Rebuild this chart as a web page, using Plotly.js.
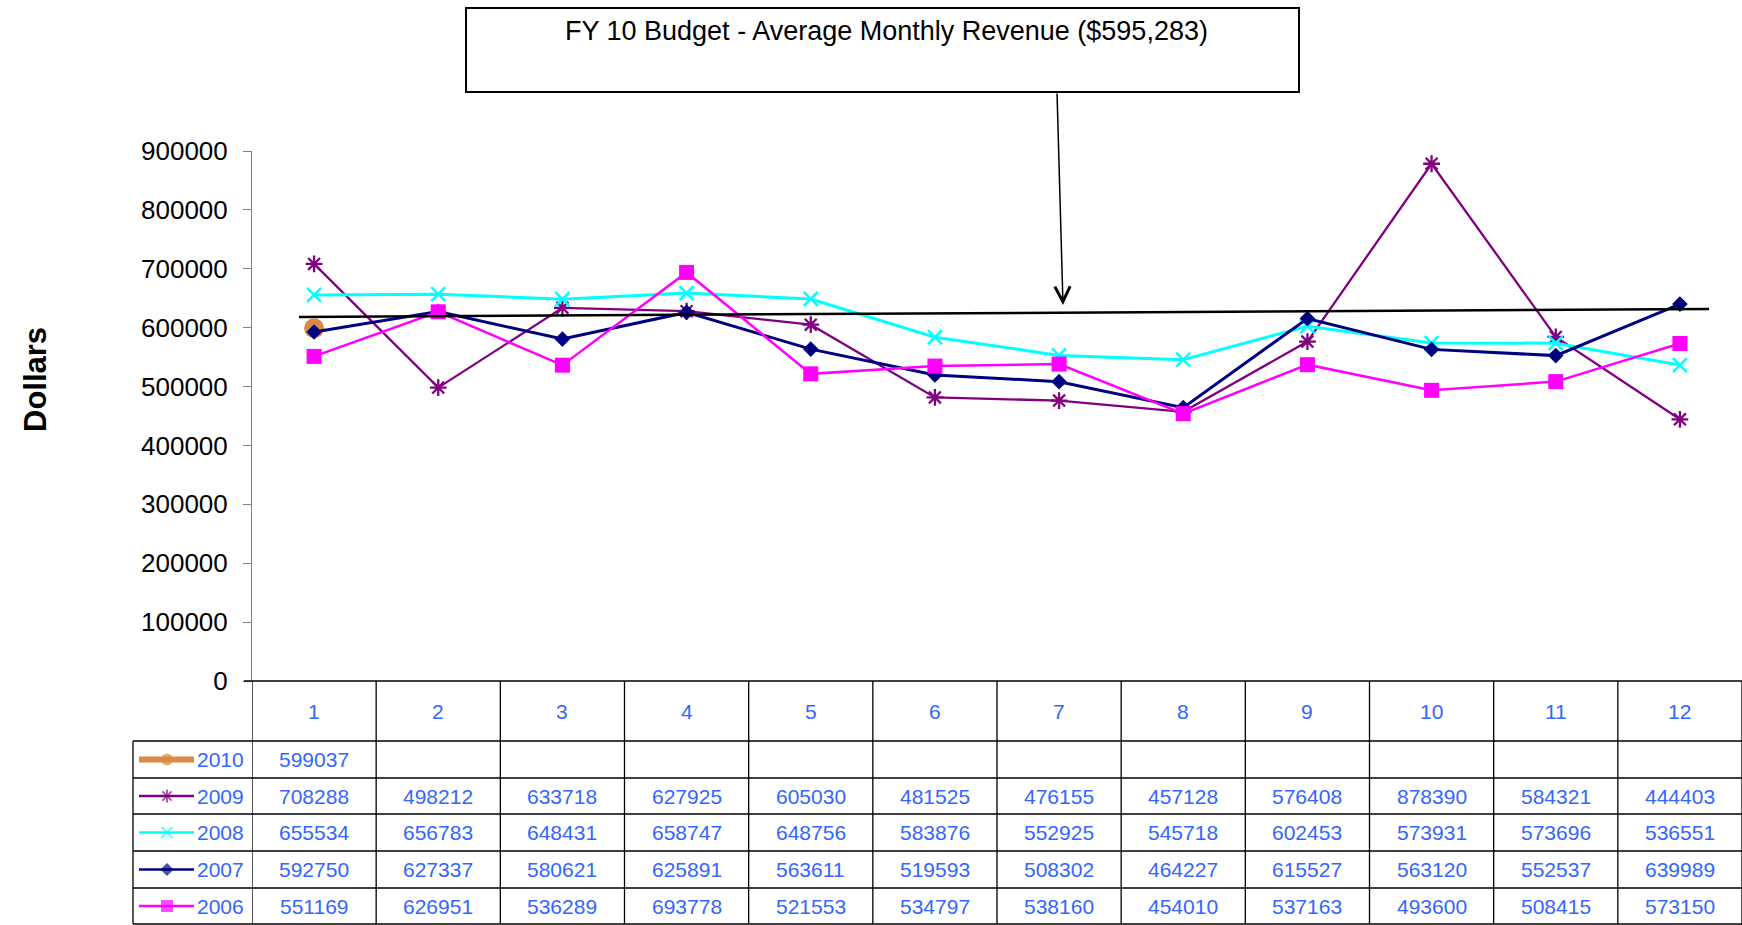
<!DOCTYPE html>
<html>
<head>
<meta charset="utf-8">
<script src="https://cdn.plot.ly/plotly-3.0.1.min.js"></script>
<style>
html,body{margin:0;padding:0;background:#fff;}
#chart{width:1742px;height:925px;}
</style>
</head>
<body>
<div id="chart"></div>
<script>
// ---------------- data ----------------
const months = [1,2,3,4,5,6,7,8,9,10,11,12];
const monthLabels = ['1','2','3','4','5','6','7','8','9','10','11','12'];
const years = ['2010','2009','2008','2007','2006'];
const rev2010 = [599037];
const rev2009 = [708288,498212,633718,627925,605030,481525,476155,457128,576408,878390,584321,444403];
const rev2008 = [655534,656783,648431,658747,648756,583876,552925,545718,602453,573931,573696,536551];
const rev2007 = [592750,627337,580621,625891,563611,519593,508302,464227,615527,563120,552537,639989];
const rev2006 = [551169,626951,536289,693778,521553,534797,538160,454010,537163,493600,508415,573150];
const yTickVals = [0,100000,200000,300000,400000,500000,600000,700000,800000,900000];
const titleText = 'FY 10 Budget - Average Monthly Revenue ($595,283)';
const yTitleText = 'Dollars';

// ---------------- styling ----------------
const W = 1742, H = 925;
const L = 252, R = 1742, T = 151, B = 681;
const FONT = '"Liberation Sans", Arial, Helvetica, sans-serif';
const BLUE = '#3366FF';
const seriesStyle = {
  '2010': {color:'#D98A45', width:6, legWidth:6, symbol:'circle', size:20, legSize:12, mlw:0},
  '2009': {color:'#800080', width:2.3, legWidth:2.5, symbol:'asterisk-open', size:14, legSize:11, mlw:2.3},
  '2008': {color:'#00FFFF', width:3, legWidth:2.5, symbol:'x-thin-open', size:14, legSize:11, mlw:2.5},
  '2007': {color:'#000080', width:3, legWidth:2.5, symbol:'diamond', size:12, legSize:10, mlw:0},
  '2006': {color:'#FF00FF', width:2.5, legWidth:2.5, symbol:'square', size:15, legSize:12, mlw:0}
};
const seriesValues = {'2010':rev2010,'2009':rev2009,'2008':rev2008,'2007':rev2007,'2006':rev2006};

// pixel helpers (margins are zero, so paper == figure)
const px = x => x / W;
const py = y => 1 - y / H;
const colW = (R - L) / 12;
const dX = x => (x - L) / colW + 0.5;       // pixel x -> data x
const dY = y => (B - y) / (B - T) * 900000; // pixel y -> data y

const rowLines = [741, 778, 814, 851, 888, 924];
const rowCenters = {'2010':759.5,'2009':796,'2008':832.5,'2007':869.5,'2006':906};

// ---------------- traces ----------------
const traces = [];
years.forEach(yr => {
  const st = seriesStyle[yr];
  const vals = seriesValues[yr];
  traces.push({
    type:'scatter', mode: yr === '2010' ? 'markers' : 'lines+markers',
    x: months.slice(0, vals.length), y: vals, name: yr,
    xaxis:'x', yaxis:'y',
    line:{color:st.color, width:st.width},
    marker:{symbol:st.symbol, size:st.size, color:st.color, line:{color:st.color, width:st.mlw}},
    showlegend:false, hoverinfo:'x+y'
  });
});
// legend keys inside the data table (own pixel-scaled axes)
years.forEach(yr => {
  const st = seriesStyle[yr];
  const cy = rowCenters[yr];
  traces.push({
    type:'scatter', mode:'lines+markers', xaxis:'x2', yaxis:'y2',
    x:[139, 167, 194], y:[cy, cy, cy],
    line:{color:st.color, width:st.legWidth},
    marker:{symbol:st.symbol, size:[0, st.legSize, 0], color:st.color,
            line:{color:st.color, width: st.mlw ? 1.8 : 0}},
    cliponaxis:false, showlegend:false, hoverinfo:'skip'
  });
});

// ---------------- shapes ----------------
const shapes = [];
const gridLine = {color:'#000000', width:1.3};
shapes.push({type:'line', xref:'paper', yref:'paper', x0:px(244), x1:1, y0:py(681), y1:py(681), line:{color:'#000', width:1.5}});
rowLines.forEach(y => shapes.push({type:'line', xref:'paper', yref:'paper', x0:px(133), x1:1, y0:py(y), y1:py(y), line:gridLine}));
for (let k = 0; k <= 12; k++) {
  shapes.push({type:'line', xref:'x', yref:'paper', x0:k+0.5, x1:k+0.5, y0:py(681), y1:py(924), line:gridLine});
}
shapes.push({type:'line', xref:'paper', yref:'paper', x0:px(133), x1:px(133), y0:py(741), y1:py(924), line:gridLine});
// title box
shapes.push({type:'rect', xref:'paper', yref:'paper', x0:px(466), x1:px(1299), y0:py(92), y1:py(8),
  line:{color:'#000', width:2}, fillcolor:'#fff'});
// drawn budget line
shapes.push({type:'line', xref:'x', yref:'y', x0:dX(299), y0:dY(317), x1:dX(1709), y1:dY(309),
  line:{color:'#000', width:2.5}});

// ---------------- annotations ----------------
const annotations = [];
annotations.push({xref:'paper', yref:'paper', x:px(886), y:py(31), text:titleText, showarrow:false,
  xanchor:'center', yanchor:'middle', font:{family:FONT, size:27, color:'#000'}});
annotations.push({xref:'paper', yref:'paper', x:px(1063), y:py(305), ax:-6, ay:-213, text:'',
  showarrow:true, arrowhead:5, arrowsize:2, arrowwidth:1.5, arrowcolor:'#000'});
annotations.push({xref:'paper', yref:'paper', x:px(35), y:py(380), text:'<b>'+yTitleText+'</b>', textangle:-90,
  showarrow:false, xanchor:'center', yanchor:'middle', font:{family:FONT, size:31, color:'#000'}});
months.forEach((m, i) => annotations.push({xref:'x', yref:'paper', x:m, y:py(711), text:monthLabels[i],
  showarrow:false, xanchor:'center', yanchor:'middle', font:{family:FONT, size:21, color:BLUE}}));
years.forEach(yr => {
  seriesValues[yr].forEach((v, i) => annotations.push({xref:'x', yref:'paper', x:months[i], y:py(rowCenters[yr]),
    text:String(v), showarrow:false, xanchor:'center', yanchor:'middle', font:{family:FONT, size:21, color:BLUE}}));
  annotations.push({xref:'paper', yref:'paper', x:px(246), y:py(rowCenters[yr]), text:yr, showarrow:false,
    xanchor:'right', yanchor:'middle', font:{family:FONT, size:21, color:BLUE}});
});

const layout = {
  width:W, height:H,
  margin:{l:0, r:0, t:0, b:0, pad:0},
  paper_bgcolor:'#fff', plot_bgcolor:'rgba(0,0,0,0)',
  showlegend:false,
  font:{family:FONT, color:'#000'},
  xaxis:{domain:[L/W, R/W], anchor:'y', range:[0.5,12.5], showticklabels:false, showline:false, zeroline:false,
    showgrid:false, ticks:'', fixedrange:true},
  yaxis:{domain:[1 - B/H, 1 - T/H], anchor:'x', range:[0,900000], tickvals:yTickVals, tickformat:'d',
    ticks:'outside', ticklen:8, tickwidth:1, tickcolor:'#808080',
    showline:true, linecolor:'#808080', linewidth:1, showgrid:false, zeroline:false, ticklabelstandoff:10,
    tickfont:{family:FONT, size:26, color:'#000'}, fixedrange:true},
  xaxis2:{domain:[0, (L-1)/W], anchor:'y2', range:[0, L-1], visible:false, fixedrange:true},
  yaxis2:{domain:[0, 1 - (B+1)/H], anchor:'x2', range:[H, B+1], visible:false, fixedrange:true},
  shapes:shapes,
  annotations:annotations
};

Plotly.newPlot('chart', traces, layout, {displayModeBar:false, staticPlot:true});
</script>
</body>
</html>
